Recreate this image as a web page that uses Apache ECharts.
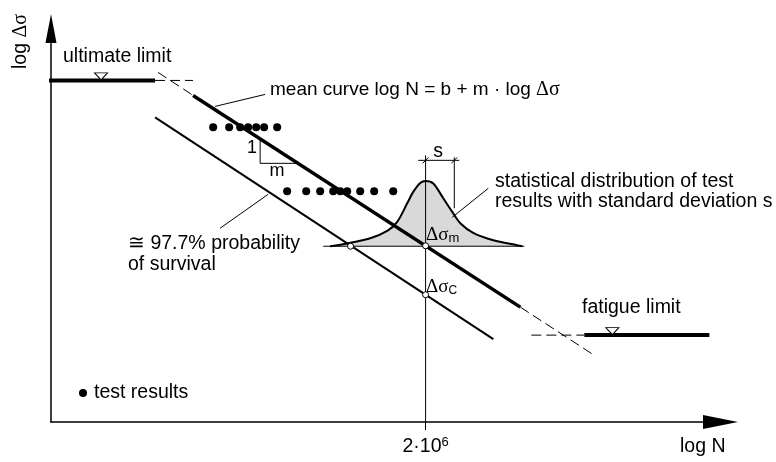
<!DOCTYPE html>
<html><head><meta charset="utf-8">
<script src="https://cdn.jsdelivr.net/npm/echarts@6/dist/echarts.min.js"></script>
<style>html,body{margin:0;padding:0;background:#fff}#c{width:776px;height:462px}</style>
</head><body><div id="c"></div>
<script>
// Schematic S-N diagram: x = log N, y = log Δσ (schematic units)
const xRange = [3, 8.9];
const yRange = [1, 2.97];
const refCycles = [6.301];               // log10(2·10^6)
const xTickLabel = ['2·10', '6'];
const ultimateLimit = [[2.947, 2.71], [3.917, 2.71]];
const ultimateExt = [[3.917, 2.71], [4.252, 2.71]];
const meanExtUp = [[3.944, 2.75], [4.252, 2.635]];
const meanCurve = [[4.252, 2.635], [7.136, 1.575]];
const meanExtDown = [[7.136, 1.575], [7.771, 1.34]];
const designCurve = [[3.917, 2.525], [6.898, 1.415]];
const fatigueExt = [[7.233, 1.435], [7.700, 1.435]];
const fatigueLimit = [[7.700, 1.435], [8.802, 1.435]];
const refLine = [[6.301, 2.335], [6.301, 1.0]];
const distBase = [[5.399, 1.88], [7.171, 1.88]];
const distCurve = [[5.460,1.880],[5.610,1.894],[5.813,1.920],[5.963,1.957],[6.051,2.002],[6.139,2.095],[6.192,2.152],[6.254,2.197],[6.301,2.207],[6.369,2.194],[6.457,2.120],[6.536,2.052],[6.607,1.995],[6.721,1.947],[6.898,1.910],[7.109,1.885],[7.153,1.880]];
const testHighX = [4.429, 4.570, 4.667, 4.737, 4.808, 4.878, 4.993];
const testHighY = 2.475;
const testLowX = [5.081, 5.249, 5.372, 5.487, 5.549, 5.610, 5.725, 5.848, 6.016];
const testLowY = 2.155;
const legendDot = [[3.282, 1.145]];
const keyPoints = [[6.301, 1.882], [6.301, 1.637], [5.64, 1.88]];
const limitMarks = [[3.441, 2.71], [7.947, 1.435]];
const slopeTriangle = [[4.843, 2.415], [4.843, 2.295], [5.178, 2.295]];
const sDimLine = [[6.236, 2.31], [6.598, 2.31]];
const sDimExt = [[6.554, 2.325], [6.554, 2.07]];
const sTicks = [[[6.275, 2.295], [6.327, 2.325]], [[6.528, 2.295], [6.580, 2.325]]];
const leaders = [[[4.446, 2.58], [4.887, 2.64]], [[6.854, 2.17], [6.536, 2.025]], [[4.490, 1.97], [4.914, 2.14]]];

const SANS = '"Liberation Sans", Arial, sans-serif';
const SERIF = '"Liberation Serif", "Times New Roman", serif';

function seg(data, width, dashed, z) {
  return { type: 'line', data: data, symbol: 'none', clip: false, silent: true, z: z || 3,
    lineStyle: { color: '#000', width: width, type: dashed ? [10, 5] : 'solid', cap: 'butt' } };
}

const series = [];
series.push({ type: 'line', data: distCurve, symbol: 'none', smooth: 0.3, clip: false, silent: true, z: 1,
  lineStyle: { color: '#000', width: 2 }, areaStyle: { color: '#d9d9d9', opacity: 1, origin: distBase[0][1] } });
series.push(seg(distBase, 1, false, 2));
series.push(seg(refLine, 1, false, 2));
series.push(seg(ultimateLimit, 4));
series.push(seg(ultimateExt, 1, true));
series.push(seg(meanExtUp, 1, true));
series.push(seg(meanCurve, 3.5));
series.push(seg(meanExtDown, 1, true));
series.push(seg(designCurve, 2));
series.push(seg(fatigueExt, 1, true));
series.push(seg(fatigueLimit, 4));
series.push(seg(slopeTriangle, 1));
series.push(seg(sDimLine, 1));
series.push(seg(sDimExt, 1));
sTicks.forEach(t => series.push(seg(t, 1)));
leaders.forEach(l => series.push(seg(l, 1)));
series.push({ type: 'scatter', silent: true, z: 5, symbolSize: 8, itemStyle: { color: '#000', opacity: 1 },
  data: testHighX.map(x => [x, testHighY]).concat(testLowX.map(x => [x, testLowY])).concat(legendDot) });
series.push({ type: 'scatter', silent: true, z: 6, symbolSize: 6, data: keyPoints,
  itemStyle: { color: '#fff', borderColor: '#000', borderWidth: 1, opacity: 1 } });
series.push({ type: 'scatter', silent: true, z: 6, symbol: 'triangle', symbolRotate: 180, symbolSize: [13, 7],
  symbolOffset: [0, -4], data: limitMarks, itemStyle: { color: '#fff', borderColor: '#000', borderWidth: 1, opacity: 1 } });

function txt(x, y, text, extra, rot) {
  return Object.assign({ type: 'text', x: x, y: y, z: 10, silent: true, rotation: rot || 0,
    style: Object.assign({ text: text, font: '19.5px ' + SANS, fill: '#000', align: 'left', verticalAlign: 'middle' }, extra || {}) });
}
const richG = { g: { fontFamily: SERIF, fontSize: 20 }, sub: { fontFamily: SANS, fontSize: 13, verticalAlign: 'bottom', lineHeight: 12 } };

const option = {
  animation: false,
  grid: { left: 51, right: 55.5, top: 28.5, bottom: 40 },
  xAxis: {
    type: 'value', min: xRange[0], max: xRange[1],
    splitLine: { show: false },
    axisLine: { onZero: false, lineStyle: { color: '#000', width: 1.5 }, symbol: ['none', 'triangle'], symbolSize: [14, 35] },
    axisTick: { show: true, customValues: refCycles, length: 8, lineStyle: { color: '#000', width: 1 } },
    axisLabel: { customValues: refCycles, margin: 14, color: '#000',
      formatter: () => '{b|' + xTickLabel[0] + '}{s|' + xTickLabel[1] + '}',
      rich: { b: { fontFamily: SANS, fontSize: 19.5, lineHeight: 22 }, s: { fontFamily: SANS, fontSize: 13, lineHeight: 7, verticalAlign: 'top' } } }
  },
  yAxis: {
    type: 'value', min: yRange[0], max: yRange[1],
    splitLine: { show: false }, axisTick: { show: false }, axisLabel: { show: false },
    axisLine: { show: true, onZero: false, lineStyle: { color: '#000', width: 1.5 }, symbol: ['none', 'triangle'], symbolSize: [11, 29] }
  },
  series: series,
  graphic: [
    txt(21, 41.5, 'log {g|Δσ}', { align: 'center', rich: richG }, Math.PI / 2),
    txt(63, 57, 'ultimate limit'),
    txt(270, 90, 'mean curve log N = b + m · log {g|Δσ}', { font: '19px ' + SANS, rich: richG }),
    txt(495, 192, 'statistical distribution of test\nresults with standard deviation s', { lineHeight: 20 }),
    txt(128, 254, '≅ 97.7% probability\nof survival', { lineHeight: 21.7 }),
    txt(94, 392.5, 'test results'),
    txt(582, 307.5, 'fatigue limit'),
    txt(680, 446.5, 'log N'),
    txt(438, 151.5, 's', { align: 'center' }),
    txt(252, 148, '1', { align: 'center', font: '18px ' + SANS }),
    txt(277, 171.5, 'm', { align: 'center', font: '18px ' + SANS }),
    txt(426, 235, '{g|Δσ}{sub|m}', { rich: { g: { fontFamily: SERIF, fontSize: 19 }, sub: { fontFamily: SANS, fontSize: 13, verticalAlign: 'bottom', lineHeight: 12 } } }),
    txt(426, 287, '{g|Δσ}{sub|C}', { rich: { g: { fontFamily: SERIF, fontSize: 19 }, sub: { fontFamily: SANS, fontSize: 12, verticalAlign: 'bottom', lineHeight: 11 } } })
  ]
};
const chart = echarts.init(document.getElementById('c'));
chart.setOption(option);
</script>
</body></html>
